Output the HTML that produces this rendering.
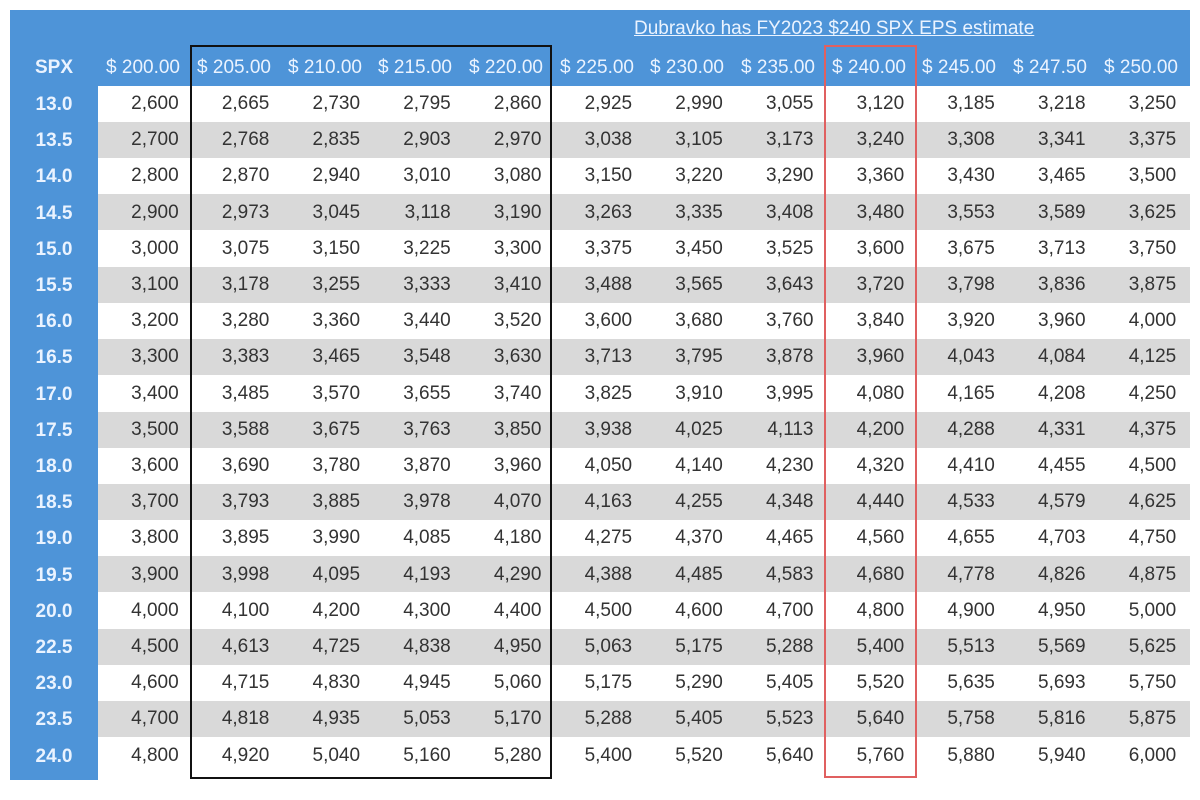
<!DOCTYPE html>
<html><head><meta charset="utf-8"><style>
body{margin:0;width:1200px;height:800px;background:#fff;position:relative;overflow:hidden;font-family:"Liberation Sans Narrow","Liberation Sans",sans-serif;}
.blue{position:absolute;background:#4e94d8;}
.row{position:absolute;left:98px;width:1092px;height:36px;}
.g{background:#d9d9d9;}
.h{position:absolute;font-size:19px;color:#eaf3ff;text-align:right;width:88px;top:57px;}
.l{position:absolute;left:10px;width:88px;text-align:center;font-size:19px;color:#eaf3ff;font-weight:bold;}
table{position:absolute;left:92px;top:86px;border-collapse:collapse;table-layout:fixed;width:1088px;font-size:19px;color:#333;}
td{width:90.7px;height:36.2px;padding:0 4px 0 0;text-align:right;box-sizing:border-box;line-height:36.2px;}
</style></head><body>
<div class="blue" style="left:10px;top:10px;width:1180px;height:76px"></div>
<div class="blue" style="left:10px;top:10px;width:88px;height:770px"></div>
<div style="position:absolute;left:634px;top:18px;font-size:19px;color:#eaf3ff;text-decoration:underline;">Dubravko has FY2023 $240 SPX EPS estimate</div>
<div class="l" style="top:57px">SPX</div>
<div class="h" style="left:92px">$ 200.00</div><div class="h" style="left:183px">$ 205.00</div><div class="h" style="left:274px">$ 210.00</div><div class="h" style="left:364px">$ 215.00</div><div class="h" style="left:455px">$ 220.00</div><div class="h" style="left:546px">$ 225.00</div><div class="h" style="left:636px">$ 230.00</div><div class="h" style="left:727px">$ 235.00</div><div class="h" style="left:818px">$ 240.00</div><div class="h" style="left:908px">$ 245.00</div><div class="h" style="left:999px">$ 247.50</div><div class="h" style="left:1090px">$ 250.00</div>
<div class="row g" style="top:122px"></div><div class="row g" style="top:194px"></div><div class="row g" style="top:267px"></div><div class="row g" style="top:339px"></div><div class="row g" style="top:412px"></div><div class="row g" style="top:484px"></div><div class="row g" style="top:556px"></div><div class="row g" style="top:629px"></div><div class="row g" style="top:701px"></div>
<div class="l" style="top:94px">13.0</div><div class="l" style="top:130px">13.5</div><div class="l" style="top:166px">14.0</div><div class="l" style="top:203px">14.5</div><div class="l" style="top:239px">15.0</div><div class="l" style="top:275px">15.5</div><div class="l" style="top:311px">16.0</div><div class="l" style="top:347px">16.5</div><div class="l" style="top:384px">17.0</div><div class="l" style="top:420px">17.5</div><div class="l" style="top:456px">18.0</div><div class="l" style="top:492px">18.5</div><div class="l" style="top:528px">19.0</div><div class="l" style="top:565px">19.5</div><div class="l" style="top:601px">20.0</div><div class="l" style="top:637px">22.5</div><div class="l" style="top:673px">23.0</div><div class="l" style="top:709px">23.5</div><div class="l" style="top:746px">24.0</div>
<table>
<tr><td>2,600</td><td>2,665</td><td>2,730</td><td>2,795</td><td>2,860</td><td>2,925</td><td>2,990</td><td>3,055</td><td>3,120</td><td>3,185</td><td>3,218</td><td>3,250</td></tr>
<tr><td>2,700</td><td>2,768</td><td>2,835</td><td>2,903</td><td>2,970</td><td>3,038</td><td>3,105</td><td>3,173</td><td>3,240</td><td>3,308</td><td>3,341</td><td>3,375</td></tr>
<tr><td>2,800</td><td>2,870</td><td>2,940</td><td>3,010</td><td>3,080</td><td>3,150</td><td>3,220</td><td>3,290</td><td>3,360</td><td>3,430</td><td>3,465</td><td>3,500</td></tr>
<tr><td>2,900</td><td>2,973</td><td>3,045</td><td>3,118</td><td>3,190</td><td>3,263</td><td>3,335</td><td>3,408</td><td>3,480</td><td>3,553</td><td>3,589</td><td>3,625</td></tr>
<tr><td>3,000</td><td>3,075</td><td>3,150</td><td>3,225</td><td>3,300</td><td>3,375</td><td>3,450</td><td>3,525</td><td>3,600</td><td>3,675</td><td>3,713</td><td>3,750</td></tr>
<tr><td>3,100</td><td>3,178</td><td>3,255</td><td>3,333</td><td>3,410</td><td>3,488</td><td>3,565</td><td>3,643</td><td>3,720</td><td>3,798</td><td>3,836</td><td>3,875</td></tr>
<tr><td>3,200</td><td>3,280</td><td>3,360</td><td>3,440</td><td>3,520</td><td>3,600</td><td>3,680</td><td>3,760</td><td>3,840</td><td>3,920</td><td>3,960</td><td>4,000</td></tr>
<tr><td>3,300</td><td>3,383</td><td>3,465</td><td>3,548</td><td>3,630</td><td>3,713</td><td>3,795</td><td>3,878</td><td>3,960</td><td>4,043</td><td>4,084</td><td>4,125</td></tr>
<tr><td>3,400</td><td>3,485</td><td>3,570</td><td>3,655</td><td>3,740</td><td>3,825</td><td>3,910</td><td>3,995</td><td>4,080</td><td>4,165</td><td>4,208</td><td>4,250</td></tr>
<tr><td>3,500</td><td>3,588</td><td>3,675</td><td>3,763</td><td>3,850</td><td>3,938</td><td>4,025</td><td>4,113</td><td>4,200</td><td>4,288</td><td>4,331</td><td>4,375</td></tr>
<tr><td>3,600</td><td>3,690</td><td>3,780</td><td>3,870</td><td>3,960</td><td>4,050</td><td>4,140</td><td>4,230</td><td>4,320</td><td>4,410</td><td>4,455</td><td>4,500</td></tr>
<tr><td>3,700</td><td>3,793</td><td>3,885</td><td>3,978</td><td>4,070</td><td>4,163</td><td>4,255</td><td>4,348</td><td>4,440</td><td>4,533</td><td>4,579</td><td>4,625</td></tr>
<tr><td>3,800</td><td>3,895</td><td>3,990</td><td>4,085</td><td>4,180</td><td>4,275</td><td>4,370</td><td>4,465</td><td>4,560</td><td>4,655</td><td>4,703</td><td>4,750</td></tr>
<tr><td>3,900</td><td>3,998</td><td>4,095</td><td>4,193</td><td>4,290</td><td>4,388</td><td>4,485</td><td>4,583</td><td>4,680</td><td>4,778</td><td>4,826</td><td>4,875</td></tr>
<tr><td>4,000</td><td>4,100</td><td>4,200</td><td>4,300</td><td>4,400</td><td>4,500</td><td>4,600</td><td>4,700</td><td>4,800</td><td>4,900</td><td>4,950</td><td>5,000</td></tr>
<tr><td>4,500</td><td>4,613</td><td>4,725</td><td>4,838</td><td>4,950</td><td>5,063</td><td>5,175</td><td>5,288</td><td>5,400</td><td>5,513</td><td>5,569</td><td>5,625</td></tr>
<tr><td>4,600</td><td>4,715</td><td>4,830</td><td>4,945</td><td>5,060</td><td>5,175</td><td>5,290</td><td>5,405</td><td>5,520</td><td>5,635</td><td>5,693</td><td>5,750</td></tr>
<tr><td>4,700</td><td>4,818</td><td>4,935</td><td>5,053</td><td>5,170</td><td>5,288</td><td>5,405</td><td>5,523</td><td>5,640</td><td>5,758</td><td>5,816</td><td>5,875</td></tr>
<tr><td>4,800</td><td>4,920</td><td>5,040</td><td>5,160</td><td>5,280</td><td>5,400</td><td>5,520</td><td>5,640</td><td>5,760</td><td>5,880</td><td>5,940</td><td>6,000</td></tr>
</table>
<div style="position:absolute;left:190px;top:45px;width:362px;height:734px;border:2px solid #111;box-sizing:border-box"></div>
<div style="position:absolute;left:824px;top:45px;width:93px;height:733px;border:2px solid #e06060;box-sizing:border-box"></div>
</body></html>
